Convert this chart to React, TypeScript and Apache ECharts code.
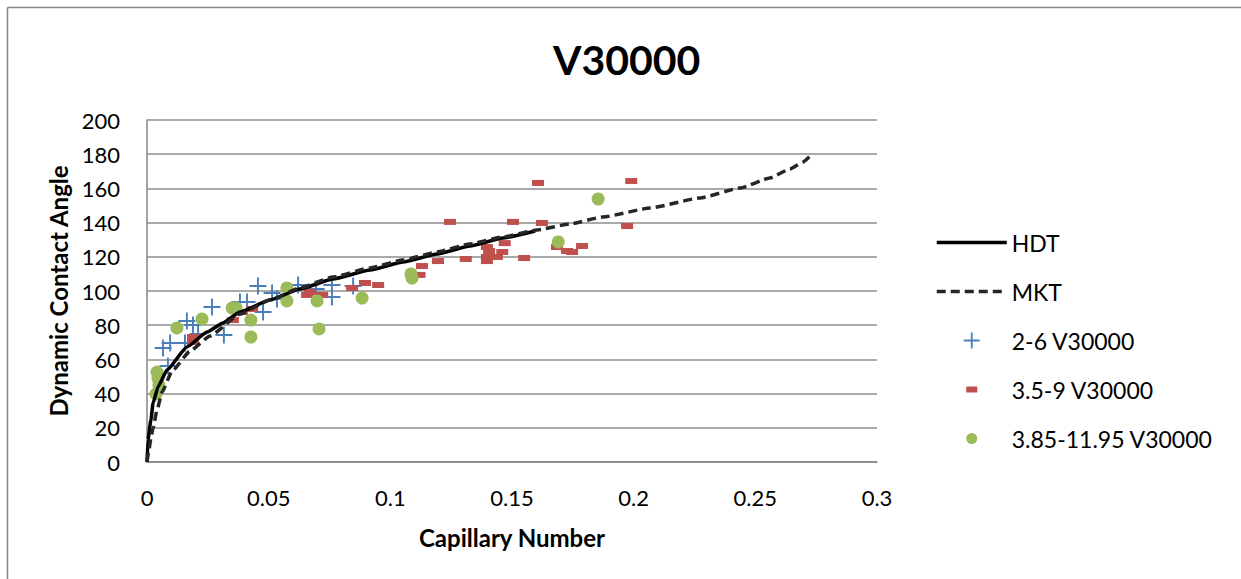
import React, { useEffect, useRef } from "react";
import * as echarts from "echarts";

// HDT model curve
const hdtCa = [0, 0.0004, 0.0016, 0.0025, 0.0045, 0.0082, 0.0164, 0.0247, 0.0312, 0.0382, 0.0505, 0.0629, 0.0764, 0.0917, 0.1052, 0.1192, 0.1327, 0.1463, 0.1595];
const hdtAngle = [0, 12.9, 24.6, 34.5, 43.9, 53.8, 67.3, 76, 81.3, 87.7, 94.7, 101.2, 107, 112.3, 117, 121.6, 126.3, 131, 135.1];

// MKT model curve
const mktCa = [0, 0.0008, 0.0016, 0.0025, 0.0041, 0.0062, 0.0103, 0.0177, 0.0259, 0.0382, 0.0505, 0.0629, 0.0764, 0.0917, 0.1052, 0.1192, 0.1327, 0.1463, 0.1603, 0.1738, 0.1874, 0.2067, 0.2273, 0.2437, 0.256, 0.2642, 0.2696, 0.2725];
const mktAngle = [0, 7, 14, 19.9, 30.4, 40.9, 53.2, 64.9, 73.7, 86.5, 94.7, 101.8, 108.2, 113.5, 118.1, 122.8, 127.5, 131.6, 135.7, 139.2, 143.3, 148.5, 154.4, 160.2, 166.1, 171.3, 175.4, 178.9];

// 2-6 V30000
const s1Ca = [0.0066, 0.0095, 0.0086, 0.0156, 0.0164, 0.0189, 0.021, 0.0267, 0.0316, 0.0382, 0.0411, 0.0456, 0.0477, 0.0514, 0.0534, 0.0621, 0.0695, 0.076, 0.076, 0.0847];
const s1Angle = [66.7, 69.6, 56.1, 69.6, 82.5, 80.1, 74.9, 90.6, 74.3, 93.6, 93.6, 102.9, 87.7, 98.8, 95.3, 103.5, 101.2, 103.5, 96.5, 102.9];

// 3.5-9 V30000
const s2Ca = [0.0189, 0.0189, 0.0353, 0.039, 0.0432, 0.0658, 0.067, 0.072, 0.0843, 0.0896, 0.095, 0.112, 0.113, 0.1196, 0.1245, 0.131, 0.1397, 0.1406, 0.1397, 0.1397, 0.1438, 0.146, 0.147, 0.1504, 0.155, 0.1607, 0.1623, 0.1685, 0.1726, 0.1747, 0.1788, 0.1973, 0.199];
const s2Angle = [73.1, 70.2, 83, 87.7, 89.5, 97.7, 99.4, 97.7, 101.8, 104.7, 103.5, 109.4, 114.6, 117.5, 140.4, 118.7, 125.7, 123.4, 119.9, 117.5, 119.9, 122.8, 128, 140.4, 119.3, 163.2, 139.8, 125.7, 123.4, 122.8, 126.3, 138, 164.3];

// 3.85-11.95 V30000
const s3Ca = [0.0041, 0.0045, 0.0049, 0.0037, 0.0123, 0.0226, 0.035, 0.0366, 0.0427, 0.0427, 0.0575, 0.0575, 0.0699, 0.0707, 0.0884, 0.1085, 0.1089, 0.169, 0.1854];
const s3Angle = [52.6, 49, 45, 39.8, 78.4, 83.6, 90, 90, 83, 73.1, 101.8, 94.2, 94.2, 77.8, 95.9, 110, 107.6, 128.7, 153.8];

const seriesNames = ["HDT", "MKT", "2-6 V30000", "3.5-9 V30000", "3.85-11.95 V30000"];

const zip = (a: number[], b: number[]) => a.map((v, i) => [v, b[i]]);

const crossPath = "path://M7.1,0h1.8v7.1h7.1v1.8h-7.1v7.1h-1.8v-7.1h-7.1v-1.8h7.1z";
const dashIcon = "path://M0,0M16,16M2.5,5h11v6h-11z";
const dotIcon = "path://M0,0M16,16M2.5,8a5.5,5.5 0 1 1 11,0a5.5,5.5 0 1 1 -11,0z";

const FONT = "Lato";

export default function App() {
  const ref = useRef<HTMLDivElement>(null);
  useEffect(() => {
    if (!ref.current) return;
    const chart = echarts.init(ref.current, undefined, { renderer: "svg" });
    chart.setOption({
      animation: false,
      backgroundColor: "#fff",
      title: {
        text: "V30000",
        left: 553,
        top: 39,
        padding: 0,
        textStyle: { fontFamily: FONT, fontWeight: "bold", fontSize: 41, color: "#000" },
      },
      graphic: [
        { type: "line", shape: { x1: 7.5, y1: 7.5, x2: 1241, y2: 7.5 }, style: { stroke: "#868686", lineWidth: 1.5 } },
        { type: "line", shape: { x1: 7.5, y1: 7.5, x2: 7.5, y2: 579 }, style: { stroke: "#868686", lineWidth: 1.5 } },
      ],
      legend: {
        orient: "vertical",
        left: 935,
        top: 231,
        padding: 0,
        itemWidth: 70,
        itemHeight: 16,
        itemGap: 26,
        textStyle: { fontFamily: FONT, fontSize: 23, color: "#000", lineHeight: 22 },
        data: [
          { name: seriesNames[0], itemStyle: { opacity: 0 }, lineStyle: { width: 3.5 } },
          { name: seriesNames[1], itemStyle: { opacity: 0 }, lineStyle: { width: 3.5 } },
          { name: seriesNames[2] },
          { name: seriesNames[3], icon: dashIcon },
          { name: seriesNames[4], icon: dotIcon },
        ],
      },
      grid: { left: 147, right: 364, top: 120, bottom: 117, containLabel: false },
      xAxis: {
        type: "value",
        min: 0,
        max: 0.3,
        interval: 0.05,
        name: "Capillary Number",
        nameLocation: "middle",
        nameGap: 63,
        nameTextStyle: { fontFamily: FONT, fontWeight: "bold", fontSize: 24, color: "#000" },
        axisLine: { show: true, lineStyle: { color: "#868686", width: 1.5 } },
        axisTick: { show: false },
        axisLabel: { fontFamily: FONT, fontSize: 22, color: "#000", margin: 24 },
        splitLine: { show: false },
      },
      yAxis: {
        type: "value",
        min: 0,
        max: 200,
        interval: 20,
        name: "Dynamic Contact Angle",
        nameLocation: "middle",
        nameGap: 74,
        nameTextStyle: { fontFamily: FONT, fontWeight: "bold", fontSize: 24, color: "#000" },
        axisLine: { show: true, lineStyle: { color: "#868686", width: 1.5 } },
        axisTick: { show: false },
        axisLabel: { fontFamily: FONT, fontSize: 22, color: "#000", margin: 27 },
        splitLine: { show: true, lineStyle: { color: "#8e8e8e", width: 1.5 } },
      },
      series: [
        {
          name: seriesNames[0],
          type: "line",
          data: zip(hdtCa, hdtAngle),
          symbol: "none",
          smooth: 0.15,
          smoothMonotone: "x",
          lineStyle: { color: "#000", width: 3.5 },
          itemStyle: { color: "#000" },
          z: 3,
        },
        {
          name: seriesNames[1],
          type: "line",
          data: zip(mktCa, mktAngle),
          symbol: "none",
          smooth: 0.15,
          smoothMonotone: "x",
          lineStyle: { color: "#262626", width: 3.5, type: [9, 5] },
          itemStyle: { color: "#262626" },
          z: 3,
        },
        {
          name: seriesNames[2],
          type: "scatter",
          data: zip(s1Ca, s1Angle),
          symbol: crossPath,
          symbolSize: 17,
          itemStyle: { color: "#4A7EBB", opacity: 1 },
          z: 2,
        },
        {
          name: seriesNames[3],
          type: "scatter",
          data: zip(s2Ca, s2Angle),
          symbol: "rect",
          symbolSize: [12, 6],
          itemStyle: { color: "#C0504D", opacity: 1 },
          z: 2,
        },
        {
          name: seriesNames[4],
          type: "scatter",
          data: zip(s3Ca, s3Angle),
          symbol: "circle",
          symbolSize: 13,
          itemStyle: { color: "#9BBB59", opacity: 1 },
          z: 2,
        },
      ],
    });
    return () => chart.dispose();
  }, []);
  return <div ref={ref} style={{ position: "absolute", left: 0, top: 0, width: 1241, height: 579 }} />;
}
